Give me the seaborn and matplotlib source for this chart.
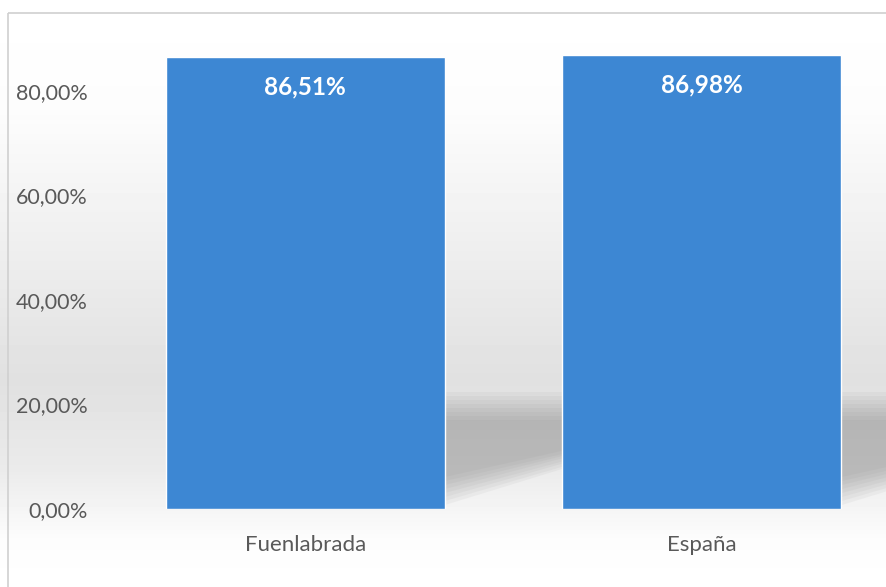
import numpy as np
import pandas as pd
import matplotlib
matplotlib.use("Agg")
import matplotlib.pyplot as plt
from matplotlib.patches import Rectangle, Polygon
import seaborn as sns

# data
categories = ["Fuenlabrada", "España"]
values = [0.8651, 0.8698]
value_labels = ["86,51%", "86,98%"]
tick_values = [0.0, 0.2, 0.4, 0.6, 0.8]
tick_labels = ["0,00%", "20,00%", "40,00%", "60,00%", "80,00%"]

df = pd.DataFrame({"zona": categories, "valor": values})

sns.set_theme(style="white")
plt.rcParams["font.family"] = ["Lato", "DejaVu Sans"]

W, H = 887, 587
fig = plt.figure(figsize=(W / 100, H / 100), dpi=100)
fig.patch.set_facecolor("white")

# background with soft grey band and shadows (Excel style)
bg = fig.add_axes([0, 0, 1, 1], zorder=0)
bg.set_xlim(0, W)
bg.set_ylim(H, 0)
bg.axis("off")
ys = np.linspace(0, 1, H)
prof = np.interp(ys * H, [0, 110, 260, 380, 470, 540, 587], [1.0, 0.99, 0.93, 0.88, 0.92, 0.99, 1.0])
grad = np.tile(prof[:, None], (1, W))
bg.imshow(grad, cmap="gray", vmin=0, vmax=1, extent=[0, W, H, 0], aspect="auto")
# soft shadow: stack of shrinking translucent shapes
for x0 in [445, 842]:
    for k in range(8):
        d = k * 4
        bg.add_patch(Polygon([[x0, 505 - d], [x0, 392 + d], [x0 + 130, 392 + d], [x0 + 130, 465 - d * 0.6]],
                             closed=True, facecolor="#808080", alpha=0.07, edgecolor="none", lw=0))
bg.add_patch(Rectangle((8, 13), W, H, fill=False, edgecolor="#d0d0d0", lw=1.2))

# main axes: categories span 107..900 px, 0 at y=509
ax = fig.add_axes([107 / W, 78 / H, 793 / W, 470.25 / H], zorder=1)
ax.patch.set_alpha(0)
sns.barplot(data=df, x="zona", y="valor", color="#3d87d3", saturation=1,
            width=0.704, ax=ax)
ax.set_ylim(0, 0.9)
ax.set_xlim(-0.5, 1.5)
ax.set_yticks(tick_values)
ax.set_yticklabels(tick_labels)
ax.set_xlabel("")
ax.set_ylabel("")
ax.tick_params(axis="y", length=0, pad=14, labelsize=15.5, labelcolor="#595959")
ax.tick_params(axis="x", length=0, pad=19, labelsize=16, labelcolor="#595959")
for s in ax.spines.values():
    s.set_visible(False)

for p, lab in zip(ax.patches, value_labels):
    ax.annotate(lab, (p.get_x() + p.get_width() / 2, p.get_height()),
                xytext=(0, -30), textcoords="offset pixels",
                ha="center", va="center", color="white",
                fontsize=17.5, fontweight="bold")

fig.savefig("out.png", dpi=100)
